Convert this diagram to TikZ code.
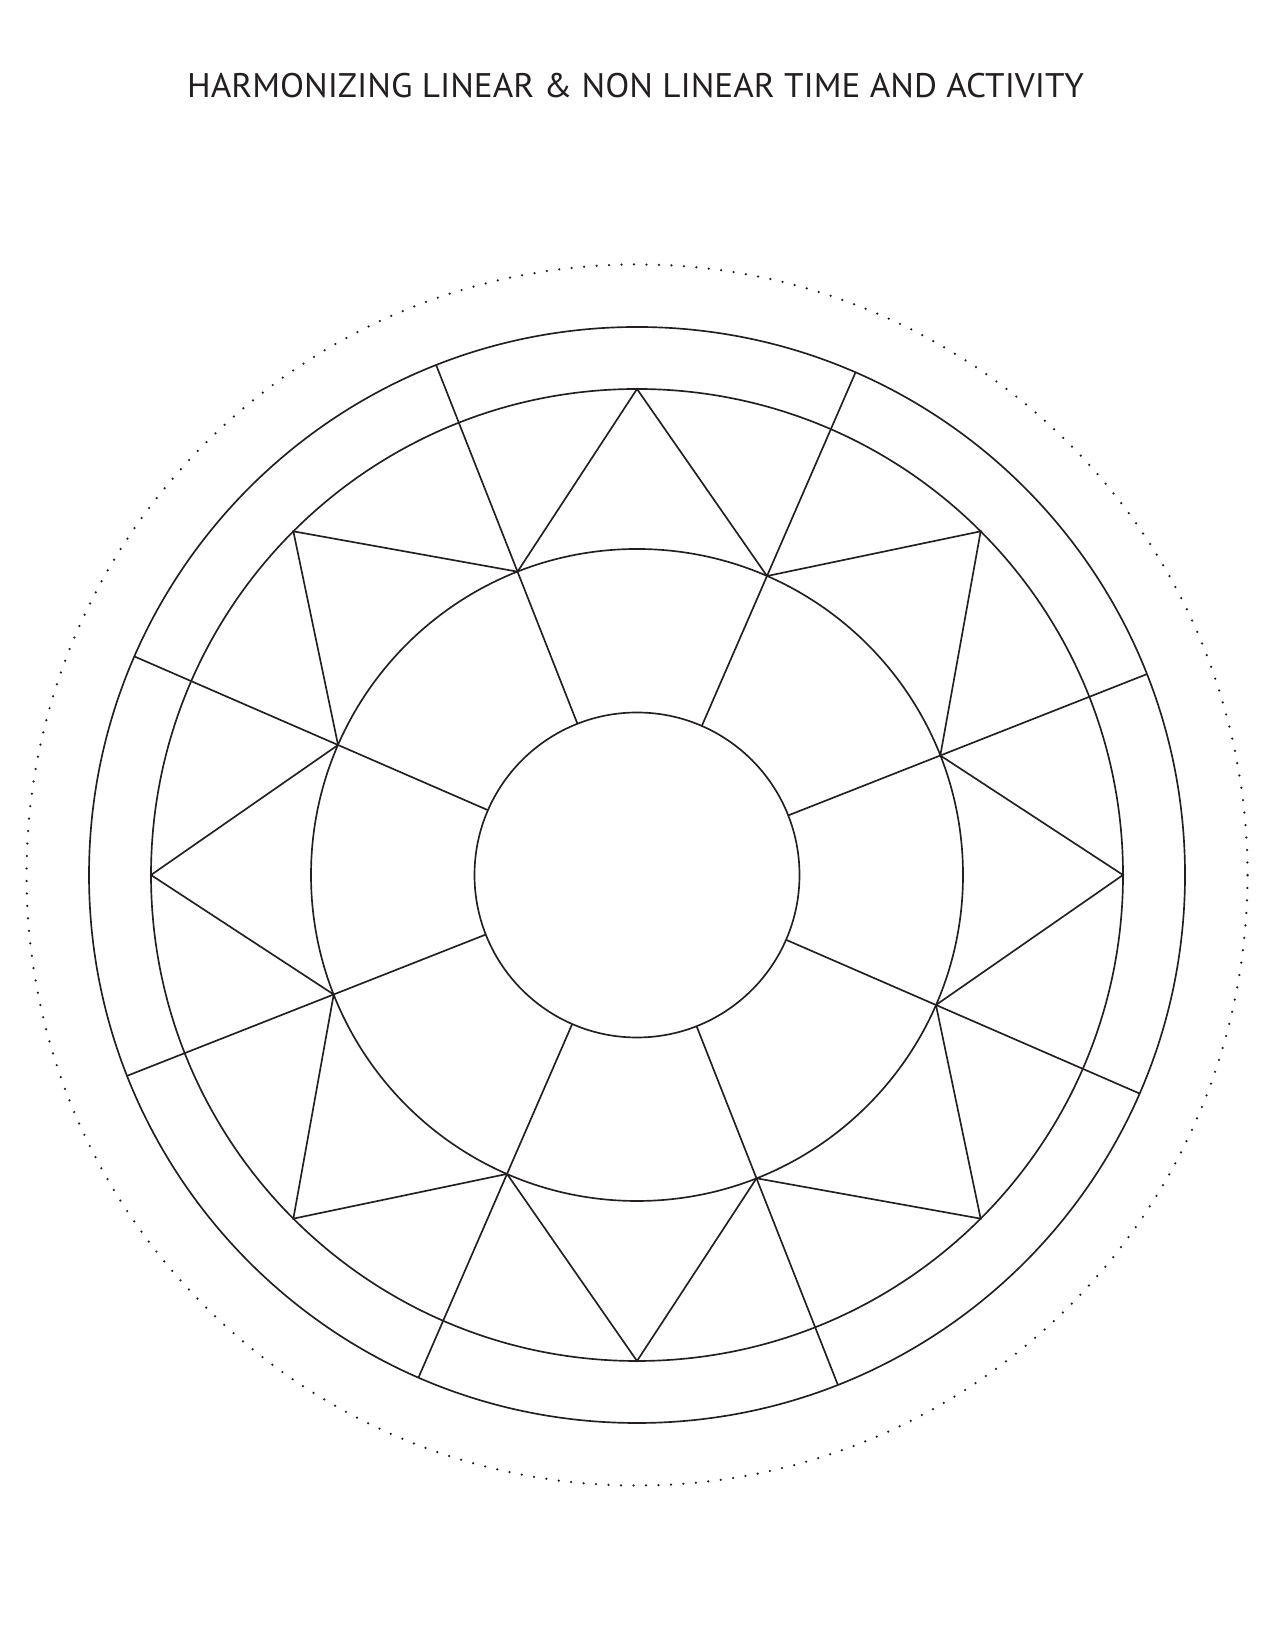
\documentclass[tikz,border=0pt]{standalone}
\usepackage{graphicx}
\usepackage{fontspec}
\setmainfont{PT Sans}
\definecolor{ink}{RGB}{35,31,32}
\begin{document}
\begin{tikzpicture}[x=0.4818pt,y=0.4818pt,line width=.8pt,color=ink]
\useasboundingbox (0,0) rectangle (1275,1650);
\node[anchor=base,inner sep=0pt] (title) at (635.5,1552.3)
	{\resizebox{432pt}{11.7pt}{\fontsize{16.7}{20}\selectfont HARMONIZING LINEAR \& NON LINEAR TIME AND ACTIVITY}};
\begin{scope}[shift={(637,775)}]
\draw[line width=1.2pt, line cap=round, dash pattern=on 0pt off 6.02pt] (0,0) circle (610.5);
\draw (0,0) circle (548);
\draw (0,0) circle (486);
\draw (0,0) circle (326);
\draw (0,0) circle (162.5);
% star
\draw[line join=miter] (90:486) -- (66.5:326) -- (45:486) -- (21.5:326) -- (0:486)
	-- (336.5:326) -- (315:486) -- (291.5:326) -- (270:486) -- (246.5:326)
	-- (225:486) -- (201.5:326) -- (180:486) -- (156.5:326) -- (135:486)
	-- (111.5:326) -- cycle;
% spokes
\draw (21.5:548) -- (21.5:162.5);
\draw (66.5:548) -- (66.5:162.5);
\draw (111.5:548) -- (111.5:162.5);
\draw (156.5:548) -- (156.5:162.5);
\draw (201.5:548) -- (201.5:162.5);
\draw (246.5:548) -- (246.5:162.5);
\draw (291.5:548) -- (291.5:162.5);
\draw (336.5:548) -- (336.5:162.5);
\end{scope}
\end{tikzpicture}
\end{document}
